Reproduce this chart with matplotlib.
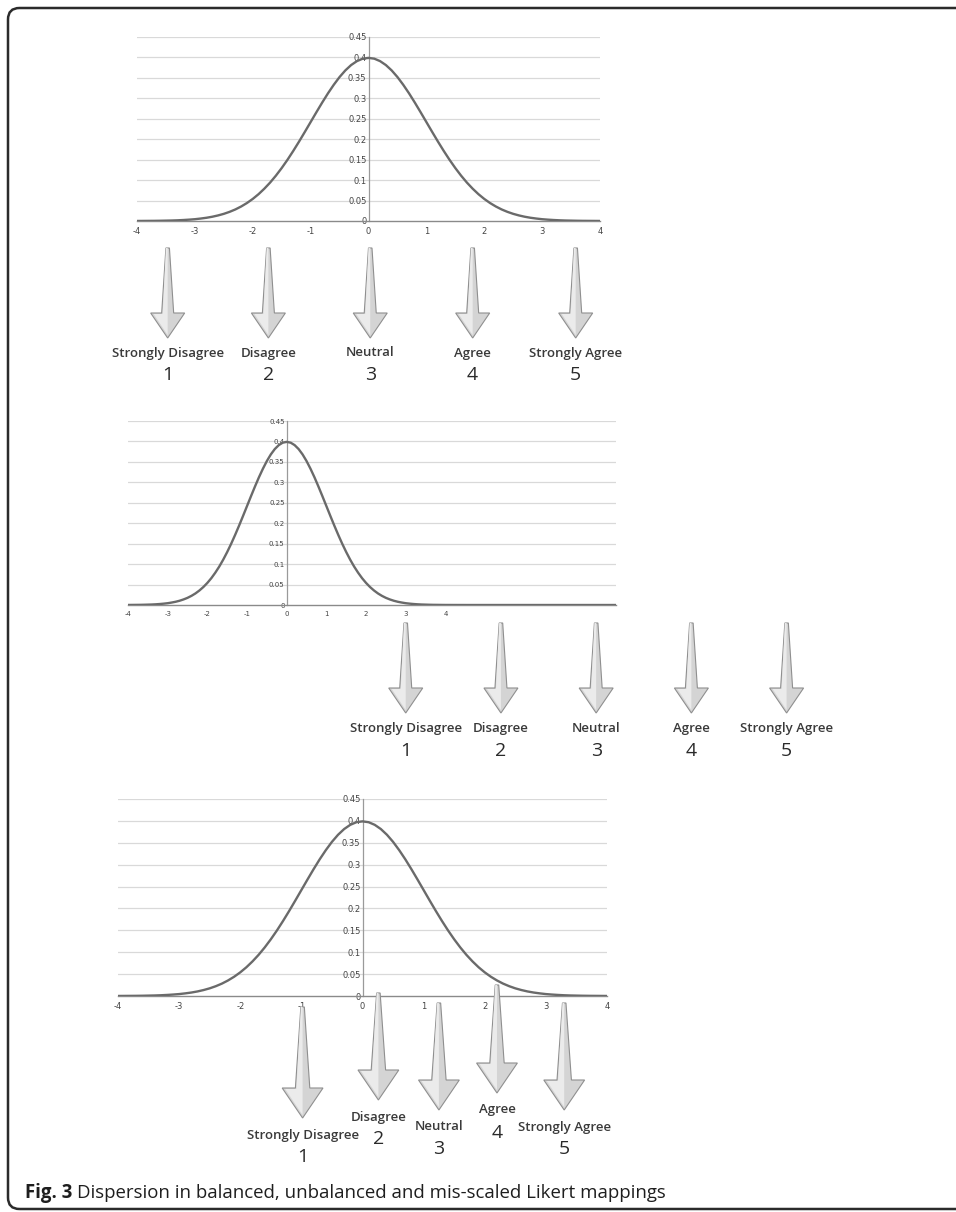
import matplotlib
matplotlib.use("Agg")
import matplotlib.pyplot as plt
from matplotlib.patches import Polygon, FancyBboxPatch
from matplotlib.transforms import IdentityTransform

# standard normal curve (step 0.1)
z = [round(-4 + 0.1 * i, 1) for i in range(81)]
density = [0.0001, 0.0002, 0.0003, 0.0004, 0.0006, 0.0009, 0.0012, 0.0017,
           0.0024, 0.0033, 0.0044, 0.0060, 0.0079, 0.0104, 0.0136, 0.0175,
           0.0224, 0.0283, 0.0355, 0.0440, 0.0540, 0.0656, 0.0790, 0.0940,
           0.1109, 0.1295, 0.1497, 0.1714, 0.1942, 0.2179, 0.2420, 0.2661,
           0.2897, 0.3123, 0.3332, 0.3521, 0.3683, 0.3814, 0.3910, 0.3970,
           0.3989,
           0.3970, 0.3910, 0.3814, 0.3683, 0.3521, 0.3332, 0.3123, 0.2897,
           0.2661, 0.2420, 0.2179, 0.1942, 0.1714, 0.1497, 0.1295, 0.1109,
           0.0940, 0.0790, 0.0656, 0.0540, 0.0440, 0.0355, 0.0283, 0.0224,
           0.0175, 0.0136, 0.0104, 0.0079, 0.0060, 0.0044, 0.0033, 0.0024,
           0.0017, 0.0012, 0.0009, 0.0006, 0.0004, 0.0003, 0.0002, 0.0001]
# flat tail in the unbalanced chart
tail_z = [4.5, 5.5, 6.5, 7.5, 8.3]
tail_density = [0.0, 0.0, 0.0, 0.0, 0.0]

likert_labels = ["Strongly Disagree", "Disagree", "Neutral", "Agree", "Strongly Agree"]
likert_points = ["1", "2", "3", "4", "5"]

# where each Likert point lands on the z axis
balanced_pos = [-3.47, -1.73, 0.03, 1.80, 3.58]
unbalanced_pos = [3.0, 5.4, 7.8, 10.2, 12.6]
misscaled_pos = [-0.98, 0.26, 1.25, 2.2, 3.3]

x_ticks = [-4, -3, -2, -1, 0, 1, 2, 3, 4]
x_tick_labels = ["-4", "-3", "-2", "-1", "0", "1", "2", "3", "4"]
y_ticks = [0, 0.05, 0.1, 0.15, 0.2, 0.25, 0.3, 0.35, 0.4, 0.45]
y_tick_labels = ["0", "0.05", "0.1", "0.15", "0.2", "0.25", "0.3", "0.35", "0.4", "0.45"]

W, H = 956, 1212
DPI = 100
LABEL_FONT = ["Open Sans", "DejaVu Sans"]


def add_panel(fig, left, top, right, bottom, xmax, tick_size):
    ax = fig.add_axes([left / W, 1 - bottom / H, (right - left) / W, (bottom - top) / H])
    ax.set_xlim(-4, xmax)
    ax.set_ylim(0, 0.45)
    for yv in y_ticks[1:]:
        ax.axhline(yv, color="#d9d9d9", lw=0.9, zorder=1)
    for s in ["top", "right"]:
        ax.spines[s].set_visible(False)
    ax.spines["left"].set_position(("data", 0))
    ax.spines["left"].set_color("#9a9a9a")
    ax.spines["bottom"].set_color("#8a8a8a")
    ax.spines["left"].set_linewidth(0.9)
    ax.spines["bottom"].set_linewidth(1.0)
    ax.set_xticks(x_ticks)
    ax.set_xticklabels(x_tick_labels)
    ax.set_yticks(y_ticks)
    ax.set_yticklabels(y_tick_labels)
    ax.tick_params(length=0, labelsize=tick_size, colors="#444444", pad=1.5)
    ax.tick_params(axis="x", pad=4)
    ax.patch.set_alpha(0)
    return ax


def draw_arrows(fig, ax, positions, tops, lengths, scale, label_gap):
    y0 = ax.transData.transform((0, 0))[1]
    hw, hl, ws, wt = 34 * scale, 25 * scale, 12 * scale, 3.5
    for i, xv in enumerate(positions):
        xc = ax.transData.transform((xv, 0))[0]
        yt = y0 - tops[i]
        yb = yt - lengths[i]
        yh = yb + hl
        verts = [(xc - wt / 2, yt), (xc + wt / 2, yt), (xc + ws / 2, yh),
                 (xc + hw / 2, yh), (xc, yb), (xc - hw / 2, yh), (xc - ws / 2, yh)]
        fig.add_artist(Polygon(verts, closed=True, facecolor="#d4d4d4",
                               edgecolor="#8f8f8f", lw=0.8, transform=IdentityTransform()))
        light = [(xc - wt / 2, yt), (xc, yt), (xc, yb + 3), (xc - hw / 2 + 3, yh - 1),
                 (xc - ws / 2 + 1, yh - 1)]
        fig.add_artist(Polygon(light, closed=True, facecolor="#ebebeb",
                               edgecolor="none", transform=IdentityTransform()))
        ly = yb - label_gap
        fig.text(xc / W, ly / H, likert_labels[i], ha="center", va="center",
                 fontsize=9.5, fontweight="semibold", color="#3a3a3a",
                 family=LABEL_FONT)
        fig.text(xc / W, (ly - 22.5) / H, likert_points[i], ha="center", va="center",
                 fontsize=14, fontweight="medium", color="#2a2a2a",
                 family=LABEL_FONT)


def main():
    fig = plt.figure(figsize=(W / DPI, H / DPI), dpi=DPI)

    frame = FancyBboxPatch((8 / W, 1 - 1209 / H), 980 / W, 1201 / H,
                           boxstyle="round,pad=0,rounding_size=0.012",
                           transform=fig.transFigure, facecolor="none",
                           edgecolor="#2b2b2b", lw=1.8, mutation_aspect=W / H)
    fig.add_artist(frame)

    # balanced
    ax1 = add_panel(fig, 137, 37, 600, 221, 4, 6)
    ax1.plot(z, density, color="#6a6a6a", lw=1.7, zorder=3)
    # unbalanced
    ax2 = add_panel(fig, 128, 421, 616, 605, 8.3, 5)
    ax2.plot(z + tail_z, density + tail_density, color="#6a6a6a", lw=1.7, zorder=3)
    # mis-scaled
    ax3 = add_panel(fig, 118, 799, 607, 996, 4, 6)
    ax3.plot(z, density, color="#6a6a6a", lw=1.7, zorder=3)

    draw_arrows(fig, ax1, balanced_pos, [27] * 5, [90] * 5, 1.0, 15)
    draw_arrows(fig, ax2, unbalanced_pos, [18] * 5, [90] * 5, 1.0, 15)
    draw_arrows(fig, ax3, misscaled_pos, [11, -3, 7, -11, 7],
                [111, 107, 107, 108, 107], 1.2, 17)

    cap_y = 1 - 1193 / H
    t = fig.text(25 / W, cap_y, "Fig. 3", fontsize=13.4, fontweight="bold",
                 color="#1e1e1e", va="center", family=LABEL_FONT)
    r = fig.canvas.get_renderer()
    bb = t.get_window_extent(renderer=r)
    fig.text((bb.x1 + 5) / W, cap_y,
             "Dispersion in balanced, unbalanced and mis-scaled Likert mappings",
             fontsize=13.4, color="#1e1e1e", va="center", family=LABEL_FONT)

    fig.savefig("out.png", dpi=DPI)


if __name__ == "__main__":
    main()
